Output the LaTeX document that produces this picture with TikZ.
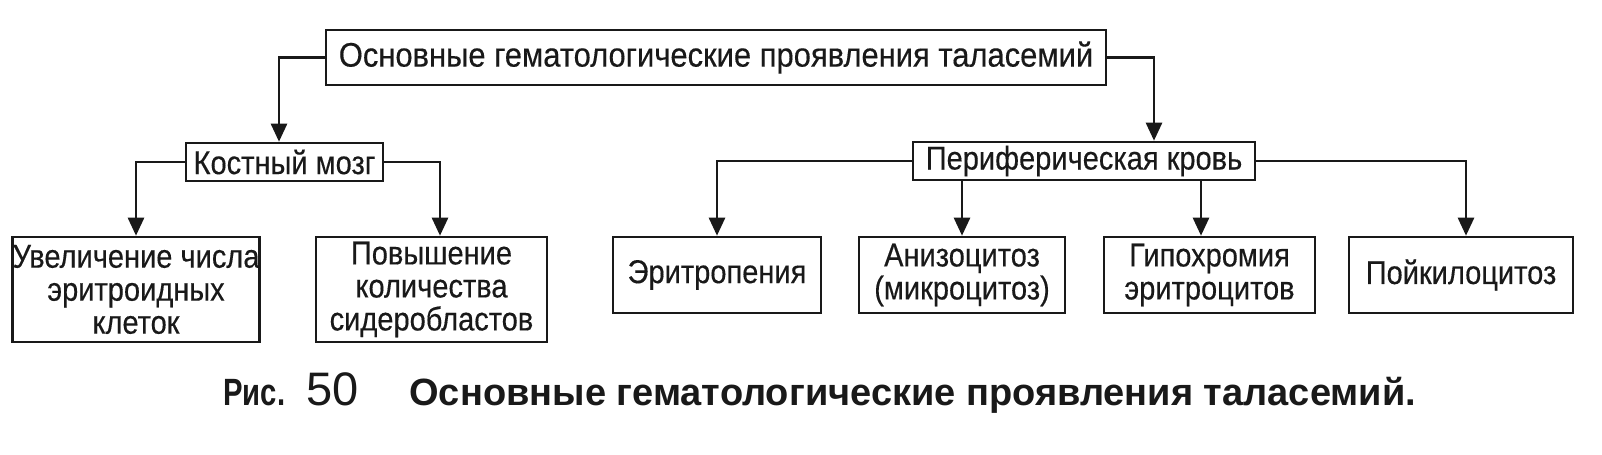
\documentclass[tikz,border=0pt]{standalone}
\usepackage{fontspec}
\setmainfont{Liberation Sans}
\newfontfamily\boxfont[FakeStretch=0.88,FakeBold=0.3]{Liberation Sans}
\newfontfamily\topfont[FakeStretch=0.91,FakeBold=0.3]{Liberation Sans}
\newfontfamily\risfont[FakeStretch=0.77]{Liberation Sans}
\usetikzlibrary{arrows.meta,calc}
\definecolor{ink}{RGB}{25,25,25}
\begin{document}
\begin{tikzpicture}[x=0.5pt,y=-0.5pt,
  box/.style={draw=ink, line width=1.3pt, inner sep=0pt, align=center,
    font=\boxfont\fontsize{16.5}{16.5}\selectfont, text=ink},
  arr/.style={draw=ink, line width=1.3pt, -{Triangle[width=8pt,length=9pt]}},
  captxt/.style={anchor=base west, inner sep=0pt, text=ink}]
\useasboundingbox[fill=white] (0,0) rectangle (1602,455);
% boxes
\node[box, font=\topfont\fontsize{17}{17}\selectfont, minimum width=390pt, minimum height=27.5pt] (top) at (716,57.5) {Основные гематологические проявления таласемий};
\node[box, minimum width=98.5pt, minimum height=19pt] (km) at (284.5,162) {Костный мозг};
\node[box, minimum width=171pt, minimum height=19pt] (pk) at (1084,161) {Периферическая кровь};
\node[box, minimum width=123pt, minimum height=52.5pt] (b1) at (136,289.5) {Увеличение числа\\эритроидных\\клеток};
\node[box, minimum width=115.5pt, minimum height=52.5pt] (b2) at (431.5,289.5) {Повышение\\количества\\сидеробластов};
\node[box, minimum width=104pt, minimum height=38pt] (e1) at (717,275) {Эритропения};
\node[box, minimum width=103pt, minimum height=38pt] (e2) at (962,275) {Анизоцитоз\\(микроцитоз)};
\node[box, minimum width=105.5pt, minimum height=38pt] (e3) at (1209.5,275) {Гипохромия\\эритроцитов};
\node[box, minimum width=112pt, minimum height=38pt] (e4) at (1461,275) {Пойкилоцитоз};
% connectors
\draw[arr] (top.west) -| ($(km.north)+(-5.5,0)$);
\draw[arr] (top.east) -| ($(pk.north)+(70,0)$);
\draw[arr] (km.west) -| (b1.north);
\draw[arr] (km.east) -| ($(b2.north)+(8.5,0)$);
\draw[arr] (pk.west) -| (e1.north);
\draw[arr] (e2.north |- pk.south) -- (e2.north);
\draw[arr] ($(e3.north |- pk.south)+(-8.5,0)$) -- ($(e3.north)+(-8.5,0)$);
\draw[arr] (pk.east) -| ($(e4.north)+(5,0)$);
% caption
\node[captxt, font=\risfont\bfseries\fontsize{19}{20}\selectfont] (ris) at (223,405) {Рис.};
\node[captxt, font=\fontsize{23.5}{28}\selectfont] (num) at (306,405) {50};
\node[captxt, font=\fontsize{19}{22}\bfseries\selectfont] (cap) at (409,405) {Основные гематологические проявления таласемий.};
\end{tikzpicture}
\end{document}
